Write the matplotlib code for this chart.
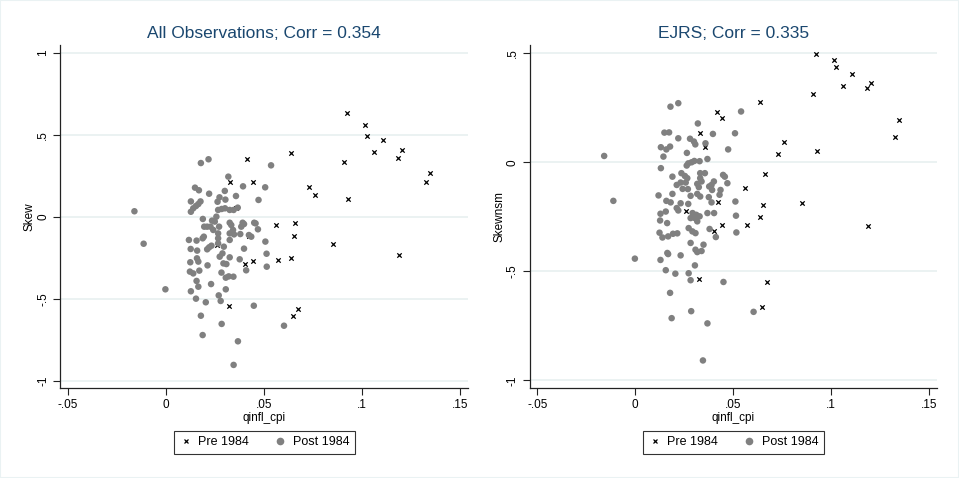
import matplotlib
matplotlib.use("Agg")
import matplotlib.pyplot as plt
from matplotlib.lines import Line2D
from matplotlib.patches import Rectangle

plt.rcParams['font.family'] = ['Liberation Sans', 'DejaVu Sans']

# ---- Pre-1984 quarters (same inflation values in both panels) ----
pre_x = [0.0926, 0.1015, 0.1025, 0.1106, 0.1061, 0.1206, 0.1186, 0.0909,
         0.0639, 0.1348, 0.1329, 0.0731, 0.0762, 0.0929, 0.0416, 0.0329,
         0.0443, 0.0561, 0.0661, 0.0652, 0.0855, 0.1188, 0.0638, 0.0570,
         0.0443, 0.0402, 0.0260, 0.0324, 0.0673, 0.0647, 0.0356, 0.0425]
pre_skew = [0.634, 0.557, 0.490, 0.470, 0.394, 0.407, 0.358, 0.335,
            0.388, 0.266, 0.209, 0.181, 0.134, 0.108, 0.354, 0.213,
            0.213, -0.051, -0.039, -0.118, -0.167, -0.234, -0.250, -0.266,
            -0.270, -0.289, -0.171, -0.543, -0.561, -0.608, 0.050, -0.115]
pre_skewnsm = [0.495, 0.471, 0.439, 0.405, 0.349, 0.363, 0.340, 0.314,
               0.276, 0.195, 0.114, 0.040, 0.094, 0.050, 0.229, 0.136,
               0.204, -0.120, -0.053, -0.197, -0.189, -0.293, -0.250, -0.288,
               -0.290, -0.314, -0.224, -0.537, -0.550, -0.662, 0.072, -0.184]

# ---- Post-1984 quarters, Skew panel ----
post_x_skew = [-0.0160, -0.0113, -0.0002, 0.0179, 0.0218, 0.0537, 0.0319, 0.0149,
               0.0169, 0.0221, 0.0394, 0.0507, 0.0301, 0.0128, 0.0177, 0.0274,
               0.0264, 0.0304, 0.0358, 0.0473, 0.0128, 0.0140, 0.0154, 0.0166,
               0.0267, 0.0285, 0.0302, 0.0326, 0.0346, 0.0367, 0.0189, 0.0236,
               0.0250, 0.0258, 0.0211, 0.0242, 0.0228, 0.0326, 0.0334, 0.0392,
               0.0399, 0.0451, 0.0458, 0.0470, 0.0385, 0.0272, 0.0267, 0.0326,
               0.0348, 0.0424, 0.0436, 0.0380, 0.0118, 0.0157, 0.0188, 0.0194,
               0.0267, 0.0267, 0.0326, 0.0508, 0.0399, 0.0296, 0.0221, 0.0233,
               0.0211, 0.0127, 0.0160, 0.0275, 0.0289, 0.0326, 0.0377, 0.0514,
               0.0125, 0.0159, 0.0166, 0.0213, 0.0294, 0.0309, 0.0410, 0.0515,
               0.0123, 0.0140, 0.0171, 0.0284, 0.0157, 0.0166, 0.0306, 0.0321,
               0.0345, 0.0231, 0.0306, 0.0128, 0.0154, 0.0270, 0.0280, 0.0204,
               0.0449, 0.0179, 0.0285, 0.0603, 0.0188, 0.0368, 0.0346, 0.0343,
               0.0196]
post_y_skew = [0.033, -0.165, -0.443, 0.327, 0.350, 0.313, 0.244, 0.177,
               0.161, 0.140, 0.185, 0.179, 0.157, 0.093, 0.093, 0.118,
               0.091, 0.104, 0.126, 0.102, 0.030, 0.051, 0.065, 0.077,
               0.041, 0.047, 0.051, 0.041, 0.041, 0.055, -0.014, -0.024,
               -0.030, 0.000, -0.061, -0.081, -0.061, -0.037, -0.051, -0.037,
               -0.045, -0.037, -0.041, -0.077, -0.061, -0.061, -0.102, -0.102,
               -0.108, -0.112, -0.122, -0.106, -0.142, -0.146, -0.132, -0.122,
               -0.132, -0.163, -0.142, -0.152, -0.195, -0.183, -0.187, -0.177,
               -0.199, -0.197, -0.207, -0.244, -0.224, -0.248, -0.260, -0.226,
               -0.278, -0.254, -0.274, -0.297, -0.285, -0.289, -0.327, -0.305,
               -0.335, -0.346, -0.329, -0.341, -0.392, -0.427, -0.372, -0.364,
               -0.366, -0.411, -0.443, -0.455, -0.500, -0.480, -0.514, -0.522,
               -0.543, -0.604, -0.654, -0.665, -0.722, -0.760, -0.904, -0.081,
               -0.061]

# ---- Post-1984 quarters, EJRS (Skewnsm) panel ----
post_x_ejrs = [-0.0159, -0.0112, -0.0002, 0.0180, 0.0220, 0.0541, 0.0320, 0.0149,
               0.0173, 0.0220, 0.0397, 0.0510, 0.0359, 0.0280, 0.0300, 0.0307,
               0.0475, 0.0131, 0.0178, 0.0159, 0.0144, 0.0131, 0.0264, 0.0369,
               0.0302, 0.0329, 0.0271, 0.0263, 0.0288, 0.0190, 0.0236, 0.0254,
               0.0332, 0.0332, 0.0339, 0.0356, 0.0449, 0.0458, 0.0471, 0.0402,
               0.0390, 0.0266, 0.0258, 0.0212, 0.0232, 0.0242, 0.0269, 0.0317,
               0.0325, 0.0378, 0.0393, 0.0436, 0.0431, 0.0119, 0.0190, 0.0317,
               0.0332, 0.0283, 0.0376, 0.0512, 0.0390, 0.0159, 0.0181, 0.0232,
               0.0271, 0.0212, 0.0220, 0.0156, 0.0129, 0.0293, 0.0312, 0.0369,
               0.0403, 0.0283, 0.0305, 0.0329, 0.0317, 0.0515, 0.0127, 0.0163,
               0.0273, 0.0380, 0.0517, 0.0124, 0.0139, 0.0168, 0.0193, 0.0215,
               0.0292, 0.0308, 0.0412, 0.0283, 0.0349, 0.0308, 0.0317, 0.0339,
               0.0164, 0.0168, 0.0232, 0.0129, 0.0305, 0.0156, 0.0205, 0.0273,
               0.0283, 0.0451, 0.0178, 0.0286, 0.0605, 0.0186, 0.0369, 0.0346]
post_y_ejrs = [0.029, -0.177, -0.442, 0.255, 0.271, 0.233, 0.178, 0.136,
               0.137, 0.110, 0.130, 0.133, 0.087, 0.108, 0.095, 0.082,
               0.059, 0.069, 0.072, 0.059, 0.026, -0.027, 0.043, 0.015,
               0.006, 0.005, -0.005, -0.015, 0.000, -0.066, -0.050, -0.063,
               -0.050, -0.073, -0.088, -0.050, -0.058, -0.066, -0.096, -0.088,
               -0.104, -0.073, -0.093, -0.104, -0.093, -0.122, -0.123, -0.099,
               -0.114, -0.111, -0.127, -0.127, -0.149, -0.152, -0.145, -0.145,
               -0.157, -0.154, -0.160, -0.180, -0.184, -0.177, -0.184, -0.188,
               -0.191, -0.210, -0.221, -0.226, -0.236, -0.233, -0.241, -0.233,
               -0.233, -0.256, -0.256, -0.248, -0.271, -0.245, -0.267, -0.279,
               -0.302, -0.306, -0.322, -0.323, -0.345, -0.340, -0.328, -0.326,
               -0.317, -0.325, -0.343, -0.370, -0.378, -0.401, -0.412, -0.407,
               -0.416, -0.421, -0.427, -0.448, -0.473, -0.495, -0.511, -0.509,
               -0.541, -0.549, -0.599, -0.683, -0.686, -0.715, -0.739, -0.909]

x_ticks = [-0.05, 0, 0.05, 0.1, 0.15]
x_ticklabels = ['-.05', '0', '.05', '.1', '.15']

titles = ['All Observations; Corr = 0.354', 'EJRS; Corr = 0.335']
ylabels = ['Skew', 'Skewnsm']
y_ticks = [[-1, -0.5, 0, 0.5, 1], [-1, -0.5, 0, 0.5]]
y_ticklabels = [['-1', '-.5', '0', '.5', '1'], ['-1', '-.5', '0', '.5']]
y_limits = [(-1.043, 1.047), (-1.034, 0.538)]

TITLE_COLOR = '#1A476F'
DOT_COLOR = '#808080'
GRID_COLOR = '#E6EFEF'

fig = plt.figure(figsize=(9.59, 4.78), dpi=100)
fig.patch.set_facecolor('white')
fig.patches.append(Rectangle((0, 0), 1, 1, transform=fig.transFigure,
                             fill=False, edgecolor='#EAF2F3', linewidth=1.5))

ax_rects = [[0.0629, 0.1889, 0.4254, 0.7170],
            [0.5527, 0.1889, 0.4244, 0.7170]]

panels = [(pre_skew, post_x_skew, post_y_skew),
          (pre_skewnsm, post_x_ejrs, post_y_ejrs)]

for i, (pre_y, px, py) in enumerate(panels):
    ax = fig.add_axes(ax_rects[i])
    ax.set_xlim(-0.0538, 0.1543)
    ax.set_ylim(*y_limits[i])

    for yv in y_ticks[i]:
        ax.axhline(yv, color=GRID_COLOR, linewidth=1.1, zorder=0)

    ax.scatter(pre_x, pre_y, marker='x', s=10, linewidths=0.9,
               color='black', zorder=2)
    ax.scatter(px, py, marker='o', s=22, color=DOT_COLOR,
               edgecolors='none', zorder=3)

    for side in ('top', 'right'):
        ax.spines[side].set_visible(False)
    for side in ('left', 'bottom'):
        ax.spines[side].set_linewidth(0.9)
        ax.spines[side].set_color('#222222')

    ax.set_xticks(x_ticks)
    ax.set_xticklabels(x_ticklabels)
    ax.set_yticks(y_ticks[i])
    ax.set_yticklabels(y_ticklabels[i], rotation=90, va='center')
    ax.tick_params(axis='both', direction='out', length=5, width=0.8,
                   labelsize=8.5, color='#222222', pad=3)

    ax.set_xlabel('qinfl_cpi', fontsize=8.5, labelpad=1)
    ax.set_ylabel(ylabels[i], fontsize=8.5, labelpad=1)
    ax.set_title(titles[i], fontsize=12.5, color=TITLE_COLOR, pad=5)

    handles = [Line2D([], [], linestyle='none', marker='x', color='black',
                      markersize=3.5, markeredgewidth=0.9),
               Line2D([], [], linestyle='none', marker='o', color=DOT_COLOR,
                      markeredgecolor='none', markersize=5.5)]
    leg = ax.legend(handles, ['Pre 1984', 'Post 1984'], ncol=2,
                    loc='upper center', bbox_to_anchor=(0.5, -0.125),
                    frameon=True, fancybox=False, fontsize=9,
                    handlelength=1.0, handletextpad=0.5, columnspacing=2.0,
                    borderpad=0.45, borderaxespad=0)
    leg.get_frame().set_edgecolor('black')
    leg.get_frame().set_linewidth(0.8)

fig.savefig('out.png', dpi=100, facecolor='white')
